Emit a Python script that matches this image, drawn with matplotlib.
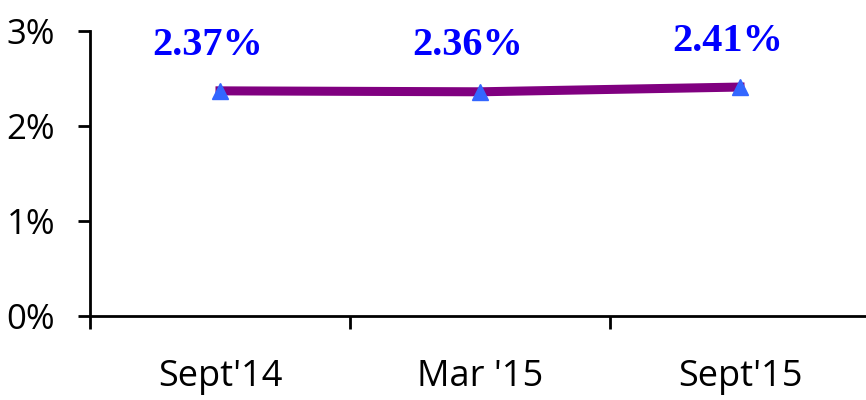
import numpy as np
import matplotlib
matplotlib.use("Agg")
import matplotlib.pyplot as plt

periods = ["Sept'14", "Mar '15", "Sept'15"]
rates = [2.37, 2.36, 2.41]
rate_labels = ["2.37%", "2.36%", "2.41%"]

fig = plt.figure(figsize=(8.66, 4.0), dpi=100)
ax = fig.add_axes([90/866, 84/400, 780/866, 285/400])

x = np.arange(len(periods))
ax.plot(x, rates, color="#800080", lw=6.5, marker="^", ms=11,
        mfc="#3366FF", mec="#3366FF", zorder=3)

for xi, yi, lab in zip(x, rates, rate_labels):
    ax.annotate(lab, (xi, yi), xytext=(-9, 33), textcoords="offset points",
                ha="center", va="center", color="#0000FF", fontsize=29,
                fontweight="bold", family="Liberation Serif")

ax.set_xlim(-0.5, 2.5)
ax.set_ylim(0, 3)
ax.set_yticks([0, 1, 2, 3])
ax.set_yticklabels(["0%", "1%", "2%", "3%"])
ax.set_xticks([-0.5, 0.5, 1.5, 2.5])
ax.set_xticklabels([])
ax.set_xticks(x, minor=True)
ax.set_xticklabels(periods, minor=True)

for s in ["top", "right"]:
    ax.spines[s].set_visible(False)
for s in ["left", "bottom"]:
    ax.spines[s].set_linewidth(2)

ax.tick_params(axis="both", which="major", length=9, width=2, direction="out")
ax.tick_params(axis="y", labelsize=25, pad=16)
ax.tick_params(axis="x", which="minor", length=0, labelsize=26, pad=31)
for t in ax.get_xticklabels(minor=True) + ax.get_yticklabels():
    t.set_family("Open Sans")

fig.savefig("out.png", dpi=100)
